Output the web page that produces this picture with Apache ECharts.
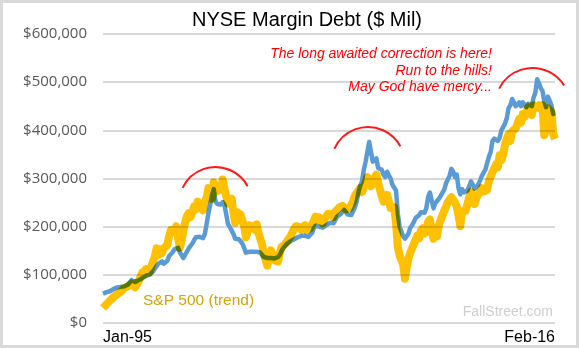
<!DOCTYPE html>
<html>
<head>
<meta charset="utf-8">
<title>NYSE Margin Debt</title>
<script src="https://cdn.jsdelivr.net/npm/echarts@6/dist/echarts.min.js"></script>
<style>
  html, body { margin: 0; padding: 0; background: #ffffff; }
  #chart { width: 579px; height: 348px; }
</style>
</head>
<body>
<div id="chart"></div>
<script>
// Monthly observations, Jan-95 through Feb-16 ($ Mil)
const monthNames = ['Jan','Feb','Mar','Apr','May','Jun','Jul','Aug','Sep','Oct','Nov','Dec'];
const firstYear = 1995;
const lastYear = 2016;
const lastMonthOfLastYear = 2; // Feb

const marginDebt = [
  // 1995
  61000, 61000, 64000, 65000, 66000, 68000, 71000, 72000, 74000, 74000, 75000, 77000,
  // 1996
  76000, 79000, 80000, 84000, 89000, 88000, 85000, 86000, 89000, 91000, 93000, 97000,
  // 1997
  98000, 102000, 100000, 102000, 107000, 113000, 118000, 123000, 124000, 128000, 123000, 126000,
  // 1998
  129000, 139000, 142000, 147000, 153000, 154000, 156000, 147000, 146000, 135000, 142000, 140000,
  // 1999
  155000, 160000, 165000, 172000, 178000, 180000, 179000, 178000, 176000, 185000, 205000, 228000,
  // 2000
  245000, 265000, 278000, 252000, 247000, 248000, 246000, 251000, 245000, 225000, 205000, 199000,
  // 2001
  195000, 185000, 175000, 172000, 174000, 170000, 165000, 156000, 146000, 146000, 148000, 150000,
  // 2002
  148000, 146000, 148000, 145000, 146000, 142000, 137000, 137000, 135000, 136000, 135000, 134000,
  // 2003
  134000, 133000, 137000, 142000, 150000, 156000, 160000, 165000, 166000, 170000, 172000, 174000,
  // 2004
  175000, 178000, 178000, 181000, 177000, 181000, 182000, 179000, 182000, 187000, 197000, 202000,
  // 2005
  198000, 200000, 204000, 198000, 200000, 203000, 206000, 208000, 211000, 207000, 214000, 221000,
  // 2006
  222000, 226000, 230000, 235000, 237000, 225000, 221000, 224000, 232000, 240000, 252000, 272000,
  // 2007
  285000, 295000, 318000, 335000, 356000, 376000, 378000, 335000, 332000, 342000, 322000, 323000,
  // 2008
  318000, 308000, 303000, 314000, 317000, 300000, 287000, 290000, 275000, 228000, 200000, 190000,
  // 2009
  180000, 175000, 178000, 186000, 198000, 203000, 210000, 218000, 221000, 224000, 230000, 233000,
  // 2010
  229000, 239000, 262000, 271000, 254000, 238000, 249000, 247000, 258000, 264000, 267000, 277000,
  // 2011
  290000, 298000, 306000, 320000, 314000, 303000, 308000, 280000, 267000, 278000, 271000, 269000,
  // 2012
  275000, 284000, 294000, 292000, 279000, 280000, 287000, 295000, 305000, 312000, 318000, 332000,
  // 2013
  345000, 355000, 378000, 383000, 385000, 378000, 384000, 400000, 402000, 414000, 425000, 446000,
  // 2014
  452000, 465000, 458000, 450000, 452000, 458000, 450000, 458000, 460000, 448000, 455000, 458000,
  // 2015
  450000, 468000, 478000, 506000, 498000, 488000, 482000, 460000, 448000, 470000, 462000, 452000,
  // 2016
  434000, 436000
];

// S&P 500 index rescaled onto the margin-debt axis
const sp500Trend = [
  // 1995
  31000, 35000, 39000, 42000, 47000, 50000, 54000, 54000, 60000, 60000, 65000, 68000,
  // 1996
  73000, 75000, 76000, 78000, 82000, 82000, 74000, 78000, 87000, 91000, 105000, 100000,
  // 1997
  112000, 113000, 105000, 116000, 128000, 137000, 155000, 141000, 153000, 145000, 155000, 159000,
  // 1998
  162000, 180000, 193000, 196000, 190000, 201000, 198000, 156000, 171000, 192000, 209000, 222000,
  // 1999
  228000, 220000, 230000, 242000, 236000, 252000, 244000, 242000, 234000, 252000, 260000, 280000,
  // 2000
  265000, 258000, 292000, 282000, 274000, 283000, 277000, 298000, 278000, 276000, 248000, 249000,
  // 2001
  258000, 229000, 208000, 230000, 232000, 225000, 221000, 201000, 178000, 182000, 203000, 205000,
  // 2002
  200000, 194000, 205000, 187000, 184000, 164000, 144000, 145000, 119000, 138000, 151000, 136000,
  // 2003
  130000, 126000, 128000, 146000, 158000, 161000, 164000, 169000, 166000, 180000, 182000, 196000,
  // 2004
  201000, 204000, 199000, 194000, 198000, 203000, 193000, 194000, 197000, 200000, 212000, 221000,
  // 2005
  214000, 219000, 214000, 207000, 216000, 216000, 227000, 224000, 226000, 220000, 231000, 231000,
  // 2006
  239000, 239000, 243000, 247000, 236000, 236000, 238000, 245000, 253000, 264000, 270000, 274000,
  // 2007
  280000, 272000, 275000, 291000, 303000, 296000, 284000, 289000, 302000, 308000, 291000, 287000,
  // 2008
  264000, 252000, 250000, 266000, 270000, 239000, 236000, 240000, 209000, 159000, 140000, 142000,
  // 2009
  122000, 92000, 115000, 134000, 146000, 146000, 164000, 172000, 182000, 176000, 192000, 197000,
  // 2010
  186000, 194000, 210000, 215000, 190000, 175000, 193000, 180000, 203000, 214000, 214000, 233000,
  // 2011
  241000, 251000, 251000, 261000, 256000, 250000, 242000, 223000, 201000, 232000, 230000, 233000,
  // 2012
  247000, 261000, 272000, 269000, 247000, 260000, 264000, 272000, 280000, 273000, 274000, 276000,
  // 2013
  295000, 299000, 313000, 321000, 329000, 323000, 348000, 338000, 350000, 370000, 382000, 392000,
  // 2014
  378000, 398000, 402000, 404000, 414000, 424000, 416000, 434000, 428000, 438000, 448000, 446000,
  // 2015
  432000, 452000, 446000, 450000, 452000, 444000, 452000, 390000, 400000, 446000, 446000, 438000,
  // 2016
  392000, 382000
];

const yTicks = { min: 0, max: 600000, step: 100000 };

const titleText = 'NYSE Margin Debt ($ Mil)';
const noteLines = [
  'The long awaited correction is here!',
  'Run to the hills!',
  'May God have mercy...'
];
const seriesLabel = 'S&P 500 (trend)';
const sourceText = 'FallStreet.com';

// Month labels such as "Jan-95"
const months = [];
for (let y = firstYear; y <= lastYear; y++) {
  const end = (y === lastYear) ? lastMonthOfLastYear : 12;
  for (let m = 0; m < end; m++) {
    months.push(monthNames[m] + '-' + String(y % 100).padStart(2, '0'));
  }
}

const chart = echarts.init(document.getElementById('chart'), null, { renderer: 'canvas' });

function money(v) {
  return '$' + v.toLocaleString('en-US');
}

// Red "top" arcs drawn over the three peaks
function peakArc(cx, cy, r, a0, a1) {
  return {
    type: 'arc',
    shape: { cx: cx, cy: cy, r: r, startAngle: a0, endAngle: a1, clockwise: true },
    style: { stroke: '#ff1a1a', fill: null, lineWidth: 2 },
    z: 100
  };
}

const option = {
  backgroundColor: '#ffffff',
  animation: false,
  grid: { left: 103, right: 24, top: 34, bottom: 25, containLabel: false },
  xAxis: {
    type: 'category',
    data: months,
    boundaryGap: false,
    axisLine: { show: false },
    axisTick: { show: false },
    splitLine: { show: false },
    axisLabel: {
      interval: function (i) { return i === 0 || i === months.length - 1; },
      alignMinLabel: 'left',
      alignMaxLabel: 'right',
      margin: 7,
      color: '#000000',
      fontFamily: 'Liberation Sans, Arial, sans-serif',
      fontSize: 16
    }
  },
  yAxis: {
    type: 'value',
    min: yTicks.min,
    max: yTicks.max,
    interval: yTicks.step,
    axisLine: { show: false },
    axisTick: { show: false },
    splitLine: { lineStyle: { color: '#d9d9d9', width: 2 } },
    axisLabel: {
      formatter: money,
      margin: 16,
      color: '#595959',
      fontFamily: 'Open Sans, sans-serif',
      fontSize: 15
    }
  },
  series: [
    {
      name: 'NYSE Margin Debt',
      type: 'line',
      data: marginDebt,
      showSymbol: false,
      lineStyle: { color: '#5b9bd5', width: 4.5, join: 'round' },
      itemStyle: { color: '#5b9bd5' },
      z: 2
    },
    {
      name: seriesLabel,
      type: 'line',
      data: sp500Trend,
      showSymbol: false,
      blendMode: 'multiply',
      lineStyle: { color: '#ffc000', width: 8, join: 'round' },
      itemStyle: { color: '#ffc000' },
      z: 3
    }
  ],
  graphic: [
    {
      type: 'rect',
      shape: { x: 1.5, y: 1.5, width: 576, height: 345 },
      style: { fill: null, stroke: '#d9d9d9', lineWidth: 3 },
      silent: true,
      z: 100
    },
    {
      type: 'text',
      x: 307, y: 20,
      style: {
        text: titleText,
        fill: '#000000',
        font: '20px "Liberation Sans", Arial, sans-serif',
        textAlign: 'center',
        textVerticalAlign: 'middle'
      },
      z: 100
    },
    {
      type: 'text',
      x: 492, y: 54,
      style: {
        text: noteLines[0], fill: '#ff0000',
        font: 'italic 14px "Liberation Sans", Arial, sans-serif',
        textAlign: 'right', textVerticalAlign: 'middle'
      },
      z: 100
    },
    {
      type: 'text',
      x: 492, y: 71,
      style: {
        text: noteLines[1], fill: '#ff0000',
        font: 'italic 14px "Liberation Sans", Arial, sans-serif',
        textAlign: 'right', textVerticalAlign: 'middle'
      },
      z: 100
    },
    {
      type: 'text',
      x: 492, y: 87,
      style: {
        text: noteLines[2], fill: '#ff0000',
        font: 'italic 14px "Liberation Sans", Arial, sans-serif',
        textAlign: 'right', textVerticalAlign: 'middle'
      },
      z: 100
    },
    {
      type: 'text',
      x: 143, y: 301,
      style: {
        text: seriesLabel, fill: '#d4a40a',
        font: '15.5px "Liberation Sans", Arial, sans-serif',
        textAlign: 'left', textVerticalAlign: 'middle'
      },
      z: 100
    },
    {
      type: 'text',
      x: 553, y: 312,
      style: {
        text: sourceText, fill: '#cfcfcf',
        font: '14px "Liberation Sans", Arial, sans-serif',
        textAlign: 'right', textVerticalAlign: 'middle'
      },
      z: 100
    },
    peakArc(215.5, 203.4, 36.4, -2.699, -0.492),
    peakArc(368, 163.8, 36.8, -2.720, -0.494),
    peakArc(532.5, 105.3, 37.3, -2.677, -0.559)
  ]
};

chart.setOption(option);
</script>
</body>
</html>
